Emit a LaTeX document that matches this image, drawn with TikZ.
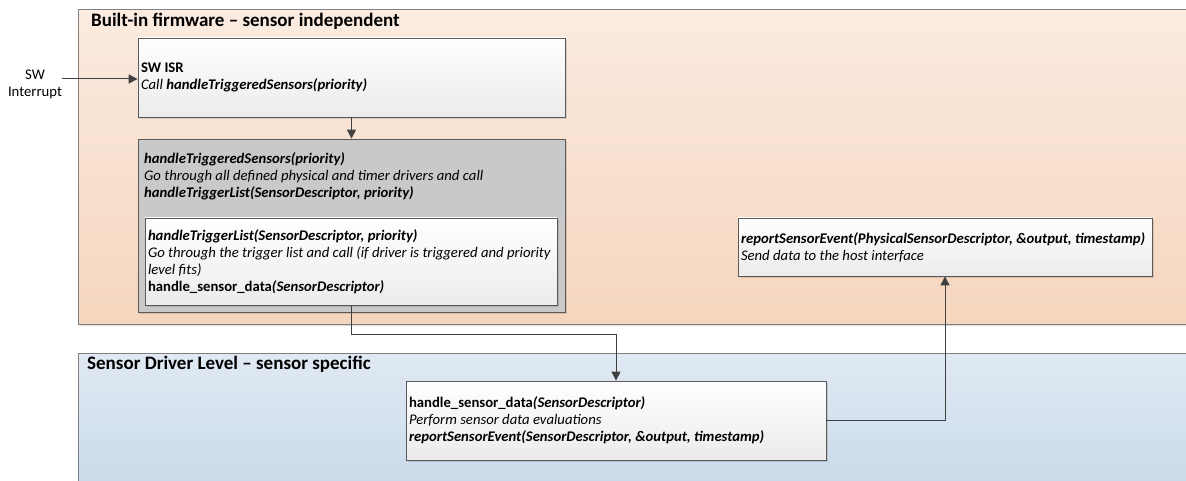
\documentclass[tikz,border=0pt]{standalone}
\usepackage{fontspec}
\setmainfont{Carlito}
\usetikzlibrary{arrows.meta,positioning,shadows}

\definecolor{firmtop}{HTML}{FBEBE0}
\definecolor{firmbot}{HTML}{F5D6BE}
\definecolor{drvtop}{HTML}{E0E9F3}
\definecolor{drvbot}{HTML}{C9DAEA}
\definecolor{panelline}{HTML}{808080}
\definecolor{boxline}{HTML}{5A5A5A}
\definecolor{boxbot}{HTML}{EBEBEB}
\definecolor{greyfill}{HTML}{C9C9C9}
\definecolor{wire}{HTML}{404040}

\newcommand{\boxfont}{\fontsize{14.7}{17}\selectfont}

\tikzset{
    softshadow/.style={drop shadow={shadow xshift=2pt, shadow yshift=-2pt, fill=black, opacity=0.12}},
    tightspace/.style={execute at begin node={\spaceskip=0.23em plus 0.1em minus 0.06em\hyphenpenalty=10000\relax}},
    panel/.style={rectangle, draw=panelline, line width=0.8pt, anchor=north west, inner sep=0pt, softshadow},
    paneltitle/.style={anchor=west, inner sep=0pt, font=\fontsize{19}{22}\selectfont\bfseries},
    fnbox/.style={rectangle, draw=boxline, line width=0.8pt, top color=white, bottom color=boxbot, align=left, inner xsep=3pt, inner ysep=0pt, font=\boxfont, tightspace, softshadow},
    plaintext/.style={align=left, inner sep=0pt, font=\boxfont, tightspace},
    wire/.style={draw=wire, line width=1pt},
}

\begin{document}
\begin{tikzpicture}[x=1pt, y=-1pt, >={Triangle[length=9pt,width=9pt]}]
    \useasboundingbox (0,0) rectangle (1186,481);
    % the two levels
    \node[panel, top color=firmtop, bottom color=firmbot, minimum width=1130pt, minimum height=315pt] at (78,9) (firmware) {};
    \node[panel, top color=drvtop, bottom color=drvbot, minimum width=1130pt, minimum height=140pt] at (78,353) (driver) {};
    \node[paneltitle] at (91,21) (firmtitle) {Built-in firmware – sensor independent};
    \node[paneltitle] at (87,364) (drvtitle) {Sensor Driver Level – sensor specific};

    % firmware boxes
    \node[align=center, inner sep=0pt, font=\boxfont] at (35,84) (swint) {SW\\Interrupt};
    \node[fnbox, text width=421pt, minimum height=79pt] at (351.5,77.5) (isr) {\textbf{SW ISR}\\\textit{Call \textbf{handleTriggeredSensors(priority)}}};
    \node[rectangle, draw=boxline, line width=0.8pt, fill=greyfill, minimum width=427pt, minimum height=173pt, softshadow] at (351.5,225.5) (tts) {};
    \node[plaintext, anchor=north west] at (144,152) (ttstext) {\textbf{\textit{handleTriggeredSensors(priority)}}\\\textit{Go through all defined physical and timer drivers and call}\\\textbf{\textit{handleTriggerList(SensorDescriptor, priority)}}};
    \node[fnbox, text width=406pt, minimum height=87pt] at (351,261.5) (trglist) {\textbf{\textit{handleTriggerList(SensorDescriptor, priority)}}\\\textit{Go through the trigger list and call (if driver is triggered and priority}\\\textit{level fits)}\\\textbf{handle\_sensor\_data\textit{(SensorDescriptor)}}};
    \node[fnbox, text width=408pt, minimum height=58pt] at (945,247) (report) {\textbf{\textit{reportSensorEvent(PhysicalSensorDescriptor, \&output, timestamp)}}\\\textit{Send data to the host interface}};

    % driver box
    \node[fnbox, text width=414pt, minimum height=79pt] at (616,420.5) (handle) {\textbf{handle\_sensor\_data\textit{(SensorDescriptor)}}\\\textit{Perform sensor data evaluations}\\\textbf{\textit{reportSensorEvent(SensorDescriptor, \&output, timestamp)}}};

    \coordinate (bend) at (351,334);
    \draw[wire, ->] (swint.east |- 0,79) -- (isr.west |- 0,79);
    \draw[wire, ->] (isr.south) -- (tts.north);
    \draw[wire, ->] (trglist.south) -- (bend) -| (handle.north);
    \draw[wire, ->] (handle.east) -| (report.south);
\end{tikzpicture}
\end{document}
